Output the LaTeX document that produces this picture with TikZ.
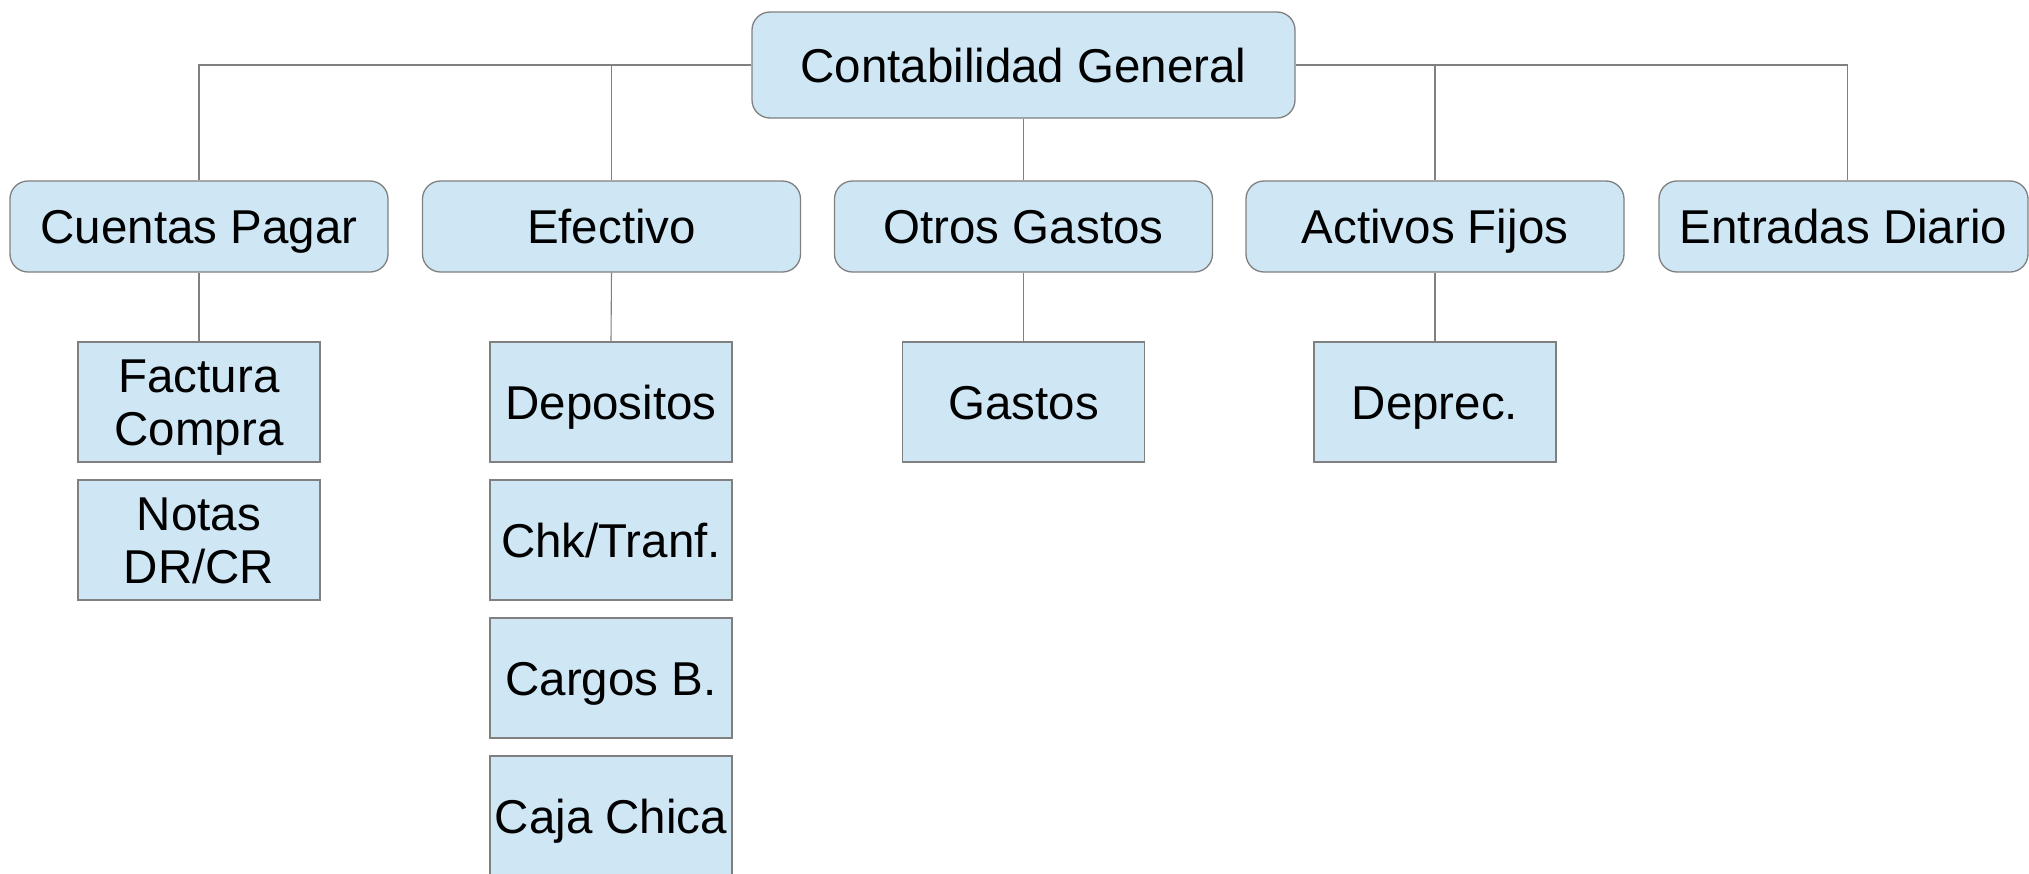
\documentclass[tikz,border=0pt]{standalone}
\usepackage{fontspec}
\setmainfont{Liberation Sans}
\definecolor{boxfill}{RGB}{207,231,245}
\definecolor{boxline}{RGB}{128,128,128}
\definecolor{conn}{RGB}{128,128,128}
\tikzset{
  base/.style={draw=boxline, fill=boxfill, line width=1.3pt, inner sep=0pt, align=center,
    font=\fontsize{47.5}{53}\selectfont, text=black, text height=34pt, text depth=0pt},
  topbox/.style={base, rounded corners=18pt, minimum width=543pt, minimum height=106pt},
  midbox/.style={base, rounded corners=18pt, minimum width=378pt, minimum height=91pt},
  leafbox/.style={base, minimum width=242pt, minimum height=120pt},
  twoline/.style={text height=87pt, text depth=0pt},
  link/.style={draw=conn, line width=1.1pt}
}
\begin{document}
\begin{tikzpicture}[x=1pt,y=-1pt]
\useasboundingbox (0,0) rectangle (2029,873);
\fill[white] (0,0) rectangle (2029,873);
\node[topbox] (top) at (1023.5,65) {Contabilidad General};
\node[midbox] (cp) at (199,226.5) {Cuentas Pagar};
\node[midbox] (ef) at (611.5,226.5) {Efectivo};
\node[midbox] (og) at (1023.5,226.5) {Otros Gastos};
\node[midbox] (af) at (1435,226.5) {Activos Fijos};
\node[midbox, minimum width=369pt] (ed) at (1843.5,226.5) {Entradas Diario};
\node[leafbox, twoline] (fc) at (199,402) {Factura\\Compra};
\node[leafbox, twoline] (nd) at (199,540) {Notas\\DR/CR};
\node[leafbox] (de) at (611,402) {Depositos};
\node[leafbox] (ch) at (611,540) {Chk/Tranf.};
\node[leafbox] (cb) at (611,678) {Cargos B.};
\node[leafbox] (cc) at (611,816) {Caja Chica};
\node[leafbox] (ga) at (1023.5,402) {Gastos};
\node[leafbox] (dp) at (1435,402) {Deprec.};
\path[link] (top.west) -| (cp.north);
\path[link] (top.west) -| (ef.north);
\path[link] (top.south) -- (og.north);
\path[link] (top.east) -| (af.north);
\path[link] (top.east) -| ([xshift=4pt]ed.north);
\path[link] (cp.south) -- (fc.north);
\path[link] (ef.south) -- (de.north);
\path[link] (og.south) -- (ga.north);
\path[link] (af.south) -- (dp.north);
\end{tikzpicture}
\end{document}
